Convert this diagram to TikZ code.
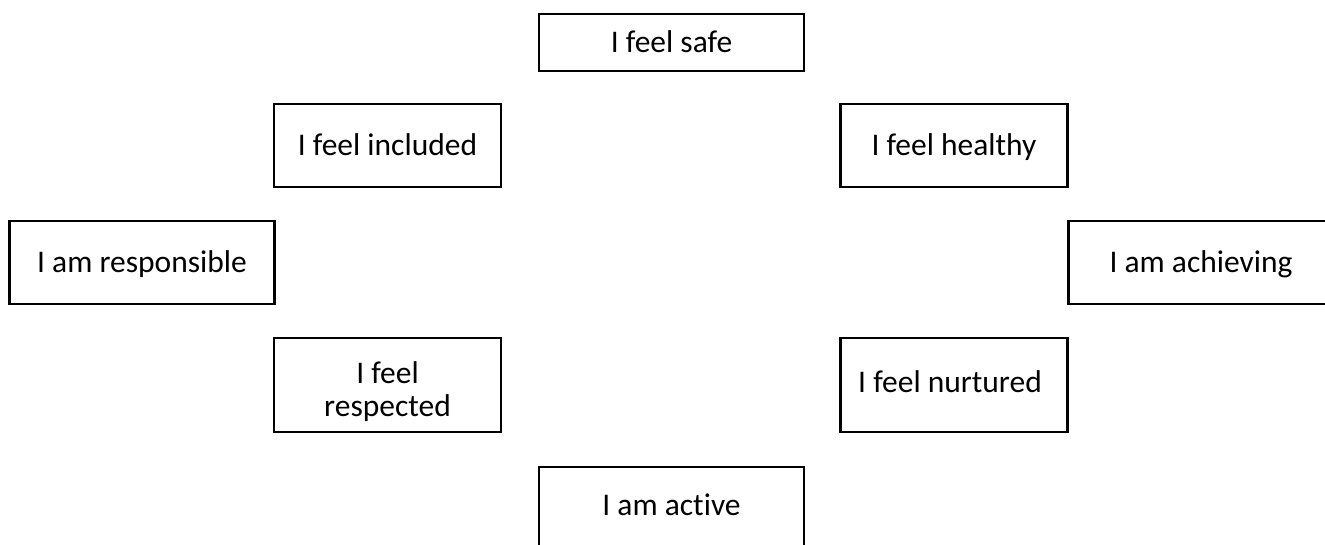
\documentclass[tikz,border=0pt]{standalone}
\usepackage{fontspec}
\setmainfont[Ligatures=NoCommon]{Carlito}
\usetikzlibrary{positioning}

\tikzset{
    goal/.style={draw, line width=2.8pt, rectangle, inner sep=0pt,
        font=\fontsize{31.5}{33}\selectfont, text height=20pt, text depth=0pt},
    wide/.style={minimum width=265pt},
    narrow/.style={minimum width=227pt}
}

\begin{document}
\begin{tikzpicture}[x=1pt, y=-1pt]
                    \useasboundingbox (0,0) rectangle (1325,545);
                    \node[goal, wide, minimum height=57pt] (safe) at (671.5,42.5) {I feel safe};
                    \node[goal, narrow, minimum height=83pt] (included) at (387.5,145.5) {I feel included};
                    \node[goal, narrow, minimum height=83pt] (healthy) at (954,145.5) {I feel healthy};
                    \node[goal, wide, minimum height=83pt] (responsible) at (142,262.5) {I am responsible};
                    \node[goal, wide, minimum height=83pt] (achieving) at (1201,262.5) {I am achieving};
                    \node[goal, narrow, minimum height=94pt, align=center, text height=62pt] (respected) at (387.5,385) {I feel\\respected};
                    \node[goal, narrow, minimum height=94pt, text depth=6pt] (nurtured) at (954,385) {I feel nurtured\hspace*{8pt}};
                    \node[goal, wide, minimum height=93pt, text depth=17pt] (active) at (671.5,513.5) {I am active};
                \end{tikzpicture}
\end{document}
